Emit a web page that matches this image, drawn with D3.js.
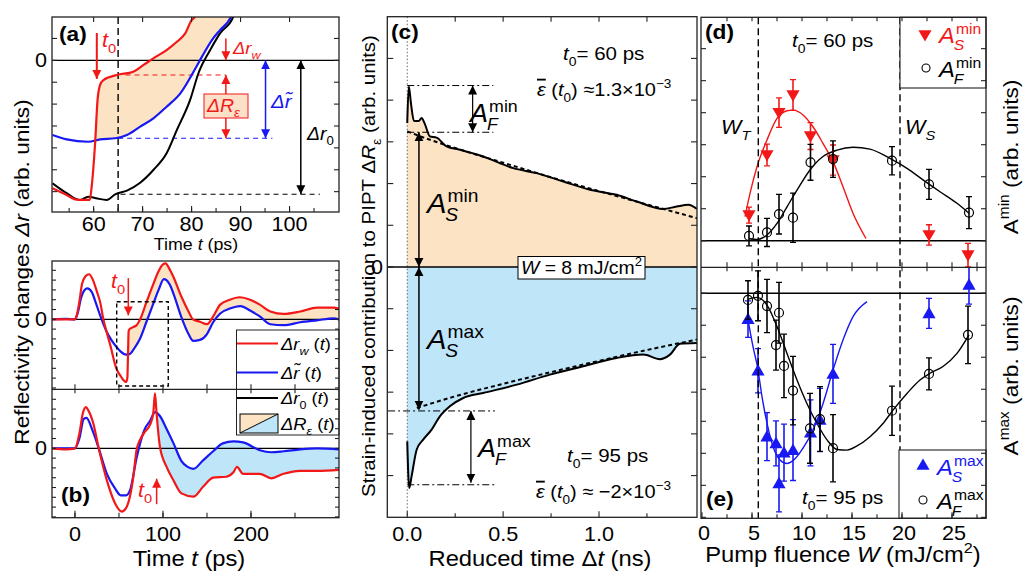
<!DOCTYPE html>
<html>
<head>
<meta charset="utf-8">
<script src="https://cdn.jsdelivr.net/npm/d3@7/dist/d3.min.js"></script>
<style>
  body { margin: 0; background: #fff; }
  svg { display: block; }
</style>
</head>
<body>
<script>
// ---- panel (a): zoom on t0 region (t in ps, arb. units) ----
var aRed = [[51.6,-5.85],[54,-6.1],[56.9,-6.38],[59.2,-6.38],[59.6,-5.77],[60.3,-3.79],[60.8,-1.81],[61.3,-1.13],[62,-0.9],[64.7,-0.67],[68.1,-0.52],[70.2,-0.21],[72.2,0.09],[74.9,0.47],[77,0.85],[78.7,1.23],[80,1.84],[80.7,1.99],[81.5,2.5]];
var aBlue = [[51.6,-3.41],[54.5,-3.61],[58.9,-3.72],[61.3,-3.61],[64.4,-3.56],[66.8,-3.41],[69.5,-3.03],[72.2,-2.65],[74.9,-2.12],[77.7,-1.51],[80.4,-0.52],[82.1,0.16],[84.4,1.0],[85.8,1.38],[87.9,1.92],[89,2.5]];
var aBlack = [[51.6,-5.62],[54.5,-6.07],[57.2,-6.38],[58.9,-6.23],[60.5,-6.3],[62.7,-6.38],[64.4,-6.12],[66.8,-5.95],[69.5,-5.59],[72.2,-5.01],[74.9,-4.25],[77,-3.18],[79.7,-1.81],[81.4,-0.59],[83.8,0.47],[85.8,1.23],[88.5,1.99],[89,2.3]];
var aXTicks = [60, 70, 80, 90, 100];

// ---- panel (b): full transients, upper t0 = 60 ps, lower t0 = 95 ps ----
var bUpRed = [[-26,0],[-10,0],[0,0],[2,0.4],[5,1.8],[8,3.6],[12,4.4],[16,4.6],[20,4.1],[25,2.8],[29,1.6],[32,0.1],[36,-1.3],[40,-2.6],[47,-5.0],[52,-5.8],[55,-6.2],[58,-6.4],[59.5,-6.0],[60.3,-3.5],[61,-1.2],[62,-1.0],[66,-0.8],[70,-0.6],[75,0.2],[81,1.7],[89,3.6],[95,4.9],[100,5.6],[103,5.7],[107,5.2],[112,4.3],[121,2.3],[129,0.8],[134,0],[142,-0.25],[150,-0.5],[157,0.3],[165,1.5],[176,2.0],[187,2.25],[199,2.0],[210,1.5],[222,0.8],[237,0.55],[256,0.8],[275,1.2],[294,1.2],[300,1.1]];
var bUpBlue = [[-26,0],[-10,0.05],[0,0],[3,0.6],[7,2.2],[11,3.0],[14,3.15],[19,2.8],[24,1.6],[28.4,0.45],[32,-0.4],[36,-1.27],[42,-2.2],[47,-2.8],[52,-3.3],[58,-3.6],[62,-3.55],[66,-3.15],[70,-2.6],[74,-1.95],[81,-0.3],[89,1.6],[95,3.0],[101,4.1],[104,4.0],[108,3.5],[112,2.6],[121,0.2],[129,-1.5],[134.5,-2.2],[142,-2.1],[150,-1.5],[157,-0.3],[165,0.6],[176,1.1],[188,1.35],[199,0.9],[210,0.3],[222,-0.5],[237,-0.6],[256,-0.3],[275,-0.1],[294,0.1],[300,0]];
var bLoRed = [[-26,0],[-10,-0.1],[0,0],[5,1.5],[9,3.6],[12.5,4.2],[15,3.9],[20.8,2.55],[27,0],[36,-3.2],[45.5,-5.6],[53,-6.45],[58,-6.1],[62.5,-4.9],[66.3,-2.9],[70,-0.17],[73.9,0.85],[79.5,1.7],[85.2,2.38],[89,3.6],[90.9,5.6],[92.7,3.6],[96.5,0.17],[104,-1.87],[111.7,-3.23],[121,-4.6],[134.5,-4.93],[145.8,-3.9],[157,-3.0],[172,-2.9],[180,-2.45],[184,-1.9],[191,-2.6],[210,-2.6],[223,-3.06],[237,-2.6],[256,-2.3],[275,-2.3],[300,-2.2]];
var bLoBlue = [[-26,0],[0,0],[5,1.0],[10,3.0],[13,3.1],[20,1.8],[27,0],[36,-2.55],[45.5,-4.1],[52,-4.8],[58,-4.8],[62.5,-4.3],[70,-1.0],[74,0.5],[79.5,2.0],[85,2.75],[91,3.7],[96.5,3.3],[104,2.0],[112,0.5],[121,-1.3],[128,-1.9],[134.5,-2.1],[145.8,-1.2],[157,-0.3],[168,0.5],[180,0.7],[191,0.6],[210,-0.2],[223,-0.4],[237,-0.3],[256,-0.1],[275,0],[300,-0.1]];
var bXTicks = [0, 100, 200];

// ---- panel (c): strain-induced contribution vs reduced time (ns) ----
var cMinCurve = [[0,3.45],[0.008,4.33],[0.02,3.9],[0.035,3.5],[0.06,3.5],[0.075,3.57],[0.09,3.45],[0.118,3.13],[0.153,3.1],[0.205,2.89],[0.275,2.81],[0.396,2.65],[0.553,2.37],[0.675,2.25],[0.814,2.05],[0.953,1.85],[1.092,1.73],[1.196,1.57],[1.335,1.39],[1.405,1.45],[1.466,1.49],[1.511,1.39]];
var cMinFit = [[0,3.25],[0.1,3.08],[0.3,2.78],[0.5,2.5],[0.75,2.15],[1.0,1.82],[1.25,1.5],[1.511,1.17]];
var cMaxCurve = [[0,-4.18],[0.0104,-5.3],[0.0226,-5.02],[0.049,-4.38],[0.083,-4.14],[0.127,-3.9],[0.17,-3.58],[0.222,-3.34],[0.292,-3.14],[0.396,-3.02],[0.571,-2.82],[0.744,-2.58],[0.918,-2.38],[1.092,-2.18],[1.231,-2.1],[1.318,-2.21],[1.37,-2.1],[1.422,-1.84],[1.511,-1.82]];
var cMaxFit = [[0.05,-3.38],[0.25,-3.1],[0.5,-2.8],[0.75,-2.52],[1.0,-2.25],[1.25,-1.99],[1.511,-1.74]];
var cXTicks = [0, 0.5, 1.0];

// ---- panels (d), (e): amplitudes vs pump fluence W (mJ/cm2) ----
var dSW = [4.7, 6.5, 7.7, 9.1, 10.85, 13.1, 22.7, 26.6];
var dS = [0.80, 2.68, 4.0, 4.55, 3.27, 2.52, 0.18, -0.45];
var dSErr = [0.25, 0.34, 0.46, 0.48, 0.42, 0.47, 0.32, 0.37];
var dFW = [4.7, 6.5, 7.7, 9.1, 10.85, 13.1, 19.0, 22.7, 26.7];
var dF = [0.15, 0.26, 0.83, 0.72, 2.45, 2.55, 2.5, 1.76, 0.88];
var dFErr = [0.31, 0.44, 0.62, 0.77, 0.56, 0.57, 0.44, 0.47, 0.5];
var dSFit = [[4.3,0.75],[4.8,1.48],[5.5,2.31],[6.5,3.15],[7.5,3.82],[8.5,4.06],[9.1,4.08],[10.1,3.93],[11.1,3.56],[12.1,3.04],[13.1,2.47],[14.1,1.69],[15.1,0.86],[16.4,0.07]];
var dFFit = [[4.7,0.07],[5.5,0.04],[6.5,0.18],[7.5,0.54],[8.5,1.06],[9.5,1.58],[10.8,2.21],[12.1,2.63],[13.5,2.83],[15.1,2.92],[16.8,2.86],[18.8,2.57],[20.5,2.26],[22.1,1.9],[23.8,1.53],[25.5,1.17],[26.7,0.86]];

var eSW = [4.6, 5.6, 6.5, 7.4, 7.7, 8.2, 9.1, 10.85, 11.8, 13.1, 22.7, 26.7];
var eS = [-0.81, -2.42, -4.48, -4.69, -5.94, -4.98, -4.9, -4.36, -3.96, -2.52, -0.63, 0.26];
var eSErr = [0.57, 0.69, 0.75, 0.7, 0.89, 0.89, 0.95, 1.03, 0.99, 0.92, 0.47, 0.6];
var eFW = [4.6, 5.6, 6.5, 7.4, 7.7, 8.2, 9.1, 10.8, 11.8, 13.1, 19.0, 22.7, 26.6];
var eF = [-0.21, -0.08, -0.4, -1.62, -0.61, -2.27, -3.04, -4.22, -3.93, -4.84, -3.67, -2.52, -1.3];
var eFErr = [0.6, 0.78, 0.83, 0.78, 0.95, 0.99, 1.07, 1.09, 1.01, 1.05, 0.77, 0.5, 0.9];
var eSFit = [[4.6,-0.83],[5.1,-1.67],[5.6,-2.39],[6.0,-3.23],[6.5,-4.06],[7.1,-4.79],[7.8,-5.21],[8.5,-5.32],[9.1,-5.23],[10.1,-4.84],[11.1,-4.27],[12.1,-3.45],[13.1,-2.4],[14.1,-1.46],[15.1,-0.73],[16.5,-0.26]];
var eFFit = [[4.6,-0.19],[5.5,-0.13],[6.5,-0.37],[7.5,-1.04],[8.5,-1.88],[9.5,-2.71],[10.5,-3.45],[11.5,-4.07],[12.5,-4.58],[13.5,-4.88],[14.5,-4.9],[15.5,-4.77],[16.8,-4.48],[18.1,-4.07],[19.1,-3.65],[20.5,-3.13],[21.8,-2.71],[22.8,-2.5],[24.1,-2.29],[25.5,-1.88],[26.7,-1.3]];
var wTicks = [0, 5, 10, 15, 20, 25];
var wThresholds = [5.63, 19.8];

var RED = '#f21818', BLUE = '#1818f2', TAN = '#fbe3c3', SKY = '#bfe5f9', FRAME = '#222';
var SX = 1.08; // the original lettering is slightly wider than it is tall

var svg = d3.select('body').append('svg')
    .attr('width', 1023).attr('height', 578)
    .style('font-family', 'Liberation Sans, Arial, Helvetica, sans-serif');

// arrow heads
var defs = svg.append('defs');
[['red', RED], ['blue', BLUE], ['black', '#000']].forEach(function (c) {
  defs.append('marker').attr('id', 'ah-' + c[0])
    .attr('viewBox', '0 0 10 10').attr('refX', 10).attr('refY', 5)
    .attr('markerUnits', 'userSpaceOnUse')
    .attr('markerWidth', 9).attr('markerHeight', 10)
    .attr('orient', 'auto-start-reverse')
    .append('path').attr('d', 'M0,0L10,5L0,10z').attr('fill', c[1]);
});

function clip(id, x0, y0, x1, y1) {
  defs.append('clipPath').attr('id', id).append('rect')
    .attr('x', x0).attr('y', y0).attr('width', x1 - x0).attr('height', y1 - y0);
}

function frame(x0, y0, x1, y1) {
  svg.append('rect').attr('x', x0).attr('y', y0).attr('width', x1 - x0).attr('height', y1 - y0)
    .attr('fill', 'none').attr('stroke', FRAME).attr('stroke-width', 1.3);
}

function tk(orient, scale, vals, pos, len) {
  vals.forEach(function (v) {
    var p = scale(v), l = svg.append('line').attr('stroke', FRAME).attr('stroke-width', 1.1);
    if (orient === 'b') l.attr('x1', p).attr('x2', p).attr('y1', pos).attr('y2', pos - len);
    else if (orient === 't') l.attr('x1', p).attr('x2', p).attr('y1', pos).attr('y2', pos + len);
    else if (orient === 'l') l.attr('y1', p).attr('y2', p).attr('x1', pos).attr('x2', pos + len);
    else l.attr('y1', p).attr('y2', p).attr('x1', pos).attr('x2', pos - len);
  });
}

function place(x, y, rot) {
  return 'translate(' + x + ',' + y + ')' + (rot ? ' rotate(-90)' : '') + ' scale(' + SX + ',1)';
}

function txt(x, y, str, size, anchor, weight) {
  return svg.append('text').attr('transform', place(x, y)).attr('font-size', size)
    .attr('text-anchor', anchor || 'middle').attr('font-weight', weight || null).text(str);
}

function rich(g, x, y, parts, o) {
  o = o || {};
  var size = o.size || 18;
  var t = g.append('text').attr('transform', place(x, y, o.rotate)).attr('font-size', size)
    .attr('fill', o.fill || '#000').attr('text-anchor', o.anchor || 'start');
  var off = 0;
  parts.forEach(function (p) {
    var s = typeof p === 'string' ? { t: p } : p;
    var target = s.sub ? size * 0.3 : s.sup ? -size * 0.42 : 0;
    var sp = t.append('tspan').attr('dy', target - off).text(s.t);
    off = target;
    if (s.sub || s.sup) sp.attr('font-size', size * 0.68);
    if (s.i) sp.attr('font-style', 'italic');
    if (s.bar) sp.style('text-decoration', 'overline');
  });
  return t;
}

// italic symbol with stacked subscript and superscript
function stacked(g, x, y, base, sub, sup, o) {
  o = o || {};
  var size = o.size || 24, fill = o.fill || '#000';
  var gg = g.append('g').attr('transform', place(x, y)).attr('fill', fill);
  var t = gg.append('text').attr('font-size', size).attr('font-style', 'italic').text(base);
  var w = t.node().getComputedTextLength();
  gg.append('text').attr('x', w + 1).attr('y', -size * 0.42).attr('font-size', size * 0.66).text(sup);
  gg.append('text').attr('x', w - 1).attr('y', size * 0.3).attr('font-size', size * 0.66)
    .attr('font-style', 'italic').text(sub);
}

function arrow(g, x1, y1, x2, y2, color, both, width) {
  var id = color === RED ? 'red' : color === BLUE ? 'blue' : 'black';
  var l = g.append('line').attr('x1', x1).attr('y1', y1).attr('x2', x2).attr('y2', y2)
    .attr('stroke', color).attr('stroke-width', width || 1.5)
    .attr('marker-end', 'url(#ah-' + id + ')');
  if (both) l.attr('marker-start', 'url(#ah-' + id + ')');
}

function hline(g, x1, x2, y, color, dash, width) {
  g.append('line').attr('x1', x1).attr('x2', x2).attr('y1', y).attr('y2', y)
    .attr('stroke', color).attr('stroke-width', width || 1.3)
    .attr('stroke-dasharray', dash || null);
}

// ================= panel (a) =================
var ax = d3.scaleLinear().domain([51.5, 110.1]).range([52, 339]);
var ay = d3.scaleLinear().domain([-6.93, 1.98]).range([212, 17]);
clip('clipA', 52, 17, 339, 212);
var gA = svg.append('g').attr('clip-path', 'url(#clipA)');
var lineA = d3.line().x(function (d) { return ax(d[0]); }).y(function (d) { return ay(d[1]); }).curve(d3.curveMonotoneX);

var aFillRed = aRed.filter(function (d) { return d[0] >= 60.3; });
var aFillBlue = aBlue.filter(function (d) { return d[0] >= 61.3; }).reverse();
gA.append('path').attr('d', lineA(aFillRed) + 'L' + lineA(aFillBlue).slice(1) + 'Z')
  .attr('fill', TAN).attr('stroke', 'none');
hline(gA, 52, 339, ay(0), '#000', null, 1.3);
gA.append('line').attr('x1', ax(65)).attr('x2', ax(65)).attr('y1', 17).attr('y2', 212)
  .attr('stroke', '#000').attr('stroke-width', 1.4).attr('stroke-dasharray', '7,4');
hline(gA, ax(66.5), ax(87), ay(-0.67), RED, '5,4', 1.1);
hline(gA, ax(65), ax(96.5), ay(-3.56), BLUE, '5,4', 1.1);
hline(gA, ax(65.5), ax(106.2), ay(-6.12), '#000', '5,4', 1.1);
gA.append('path').attr('d', lineA(aBlack)).attr('fill', 'none').attr('stroke', '#000').attr('stroke-width', 2);
gA.append('path').attr('d', lineA(aBlue)).attr('fill', 'none').attr('stroke', BLUE).attr('stroke-width', 2.2);
gA.append('path').attr('d', lineA(aRed)).attr('fill', 'none').attr('stroke', RED).attr('stroke-width', 2.2);

arrow(svg, ax(60.65), ay(1.25), ax(60.65), ay(-0.85), RED, false, 2);
rich(svg, ax(61.7), 47, [{ t: 't', i: true }, { t: '0', sub: true }], { size: 20, fill: RED });
arrow(svg, ax(87), ay(1.0), ax(87), ay(0), RED, false, 1.5);
rich(svg, 233, 54, [{ t: 'Δr', i: true }, { t: 'w', sub: true, i: true }], { size: 17, fill: RED });
arrow(svg, ax(87), ay(-0.67), ax(87), ay(-3.56), RED, true, 1.5);
svg.append('rect').attr('x', 204).attr('y', 94).attr('width', 44).attr('height', 24)
  .attr('fill', '#fde0c8').attr('stroke', RED).attr('stroke-width', 1);
rich(svg, 207, 112, [{ t: 'ΔR', i: true }, { t: 'ε', sub: true, i: true }], { size: 18, fill: RED });
arrow(svg, ax(95.1), ay(0), ax(95.1), ay(-3.56), BLUE, true, 1.5);
rich(svg, 271, 108, [{ t: 'Δr\u0303', i: true }], { size: 19, fill: BLUE });
arrow(svg, ax(102.3), ay(0), ax(102.3), ay(-6.12), '#000', true, 1.5);
rich(svg, 307, 140, [{ t: 'Δr', i: true }, { t: '0', sub: true }], { size: 18 });

frame(52, 17, 339, 212);
tk('b', ax, d3.range(55, 110, 5), 212, 4);
tk('b', ax, aXTicks, 212, 6);
tk('t', ax, aXTicks, 17, 5);
tk('l', ay, d3.range(-6, 2, 1), 52, 5);
tk('r', ay, d3.range(-6, 2, 1), 339, 5);
aXTicks.forEach(function (v) { txt(ax(v), 231, v, 20); });
txt(47, ay(0) + 7, '0', 20, 'end');
rich(svg, 196, 250, ['Time ', { t: 't', i: true }, ' (ps)'], { size: 16.5, anchor: 'middle' });
txt(59, 41, '(a)', 21, 'start', 'bold');

// ================= panel (b) =================
var bx = d3.scaleLinear().domain([-26.1, 300]).range([52, 339]);
var bUy = d3.scaleLinear().domain([-7.14, 5.95]).range([389.3, 261]);
var bLy = d3.scaleLinear().domain([-7.08, 6.02]).range([517.7, 389.3]);
clip('clipBU', 52, 261, 339, 389.3);
clip('clipBL', 52, 389.3, 339, 517.7);
function lineB(sy) {
  return d3.line().x(function (d) { return bx(d[0]); }).y(function (d) { return sy(d[1]); }).curve(d3.curveMonotoneX);
}
var gBU = svg.append('g').attr('clip-path', 'url(#clipBU)');
var lBU = lineB(bUy);
gBU.append('path')
  .attr('d', lBU(bUpRed.filter(function (d) { return d[0] >= 60.3; })) + 'L' +
    lBU(bUpBlue.filter(function (d) { return d[0] >= 60.3; }).reverse()).slice(1) + 'Z')
  .attr('fill', TAN);
hline(gBU, 52, 339, bUy(0), '#000', null, 1.3);
gBU.append('path').attr('d', lBU(bUpBlue)).attr('fill', 'none').attr('stroke', BLUE).attr('stroke-width', 2.2);
gBU.append('path').attr('d', lBU(bUpRed)).attr('fill', 'none').attr('stroke', RED).attr('stroke-width', 2.2);
gBU.append('rect').attr('x', bx(47.4)).attr('y', bUy(1.8)).attr('width', bx(106) - bx(47.4))
  .attr('height', bUy(-6.8) - bUy(1.8)).attr('fill', 'none').attr('stroke', '#000')
  .attr('stroke-width', 1.4).attr('stroke-dasharray', '4,3');

var gBL = svg.append('g').attr('clip-path', 'url(#clipBL)');
var lBL = lineB(bLy);
gBL.append('path')
  .attr('d', lBL(bLoBlue.filter(function (d) { return d[0] >= 91; })) + 'L' +
    lBL(bLoRed.filter(function (d) { return d[0] >= 92.7; }).reverse()).slice(1) + 'Z')
  .attr('fill', SKY);
hline(gBL, 52, 339, bLy(0), '#000', null, 1.3);
gBL.append('path').attr('d', lBL(bLoBlue)).attr('fill', 'none').attr('stroke', BLUE).attr('stroke-width', 2.2);
gBL.append('path').attr('d', lBL(bLoRed)).attr('fill', 'none').attr('stroke', RED).attr('stroke-width', 2.2);

arrow(svg, bx(60.6), bUy(4.2), bx(60.6), bUy(0.4), RED, false, 1.5);
rich(svg, 111, 288, [{ t: 't', i: true }, { t: '0', sub: true }], { size: 20, fill: RED });
arrow(svg, bx(92.8), bLy(-5.7), bx(92.8), bLy(-3.1), RED, false, 1.5);
rich(svg, 138, 497, [{ t: 't', i: true }, { t: '0', sub: true }], { size: 20, fill: RED });

// legend (b)
var gLeg = svg.append('g');
gLeg.append('rect').attr('x', 236.5).attr('y', 330).attr('width', 102.5).attr('height', 105)
  .attr('fill', '#fff').attr('stroke', FRAME).attr('stroke-width', 1);
[[RED, 343.5, [{ t: 'Δr', i: true }, { t: 'w', sub: true, i: true }, ' (', { t: 't', i: true }, ')']],
 [BLUE, 372.5, [{ t: 'Δr\u0303', i: true }, ' (', { t: 't', i: true }, ')']],
 ['#000', 398, [{ t: 'Δr', i: true }, { t: '0', sub: true }, ' (', { t: 't', i: true }, ')']]
].forEach(function (r) {
  gLeg.append('line').attr('x1', 237).attr('x2', 278).attr('y1', r[1]).attr('y2', r[1])
    .attr('stroke', r[0]).attr('stroke-width', 2.2);
  rich(gLeg, 281, r[1] + 6, r[2], { size: 17 });
});
gLeg.append('rect').attr('x', 240).attr('y', 414).attr('width', 38).attr('height', 19).attr('fill', TAN);
gLeg.append('path').attr('d', 'M240,433L278,414L278,433Z').attr('fill', SKY);
gLeg.append('line').attr('x1', 240).attr('y1', 433).attr('x2', 278).attr('y2', 414).attr('stroke', '#000').attr('stroke-width', 1);
gLeg.append('rect').attr('x', 240).attr('y', 414).attr('width', 38).attr('height', 19)
  .attr('fill', 'none').attr('stroke', '#000').attr('stroke-width', 1);
rich(gLeg, 281, 430, [{ t: 'ΔR', i: true }, { t: 'ε', sub: true, i: true }, ' (', { t: 't', i: true }, ')'], { size: 17 });

frame(52, 261, 339, 517.7);
svg.append('line').attr('x1', 52).attr('x2', 339).attr('y1', 389.3).attr('y2', 389.3).attr('stroke', FRAME).attr('stroke-width', 1.3);
tk('b', bx, d3.range(0, 300, 50), 517.7, 5);
tk('b', bx, bXTicks, 517.7, 7);
tk('b', bx, d3.range(0, 300, 50), 389.3, 5);
tk('t', bx, d3.range(0, 300, 50), 389.3, 4);
tk('l', bUy, d3.range(-7, 6, 1), 52, 4);
tk('r', bUy, d3.range(-7, 6, 1), 339, 4);
tk('l', bLy, d3.range(-7, 7, 1), 52, 4);
tk('r', bLy, d3.range(-7, 7, 1), 339, 4);
bXTicks.forEach(function (v) { txt(bx(v), 541, v, 20); });
txt(47, bUy(0) + 7, '0', 20, 'end');
txt(47, bLy(0) + 7, '0', 20, 'end');
rich(svg, 189, 566, ['Time ', { t: 't', i: true }, ' (ps)'], { size: 22, anchor: 'middle' });
txt(61, 502, '(b)', 21, 'start', 'bold');

rich(svg, 29, 272, ['Reflectivity changes ', { t: 'Δr', i: true }, ' (arb. units)'],
  { size: 21, anchor: 'middle', rotate: true });

// ================= panel (c) =================
var cx = d3.scaleLinear().domain([-0.104, 1.511]).range([387.3, 697]);
var cy = d3.scaleLinear().domain([-6, 6]).range([517.3, 16.7]);
clip('clipC', 387.3, 16.7, 697, 517.3);
var gC = svg.append('g').attr('clip-path', 'url(#clipC)');
var areaC = d3.area().x(function (d) { return cx(d[0]); }).y0(cy(0)).y1(function (d) { return cy(d[1]); }).curve(d3.curveMonotoneX);
var lineC = d3.line().x(function (d) { return cx(d[0]); }).y(function (d) { return cy(d[1]); }).curve(d3.curveMonotoneX);
gC.append('path').attr('d', areaC(cMinCurve)).attr('fill', TAN);
gC.append('path').attr('d', areaC(cMaxCurve)).attr('fill', SKY);
gC.append('line').attr('x1', cx(0)).attr('x2', cx(0)).attr('y1', 16.7).attr('y2', 517.3)
  .attr('stroke', '#666').attr('stroke-width', 1).attr('stroke-dasharray', '1.5,2');
hline(gC, 387.3, 697, cy(0), '#000', null, 1.3);
gC.append('path').attr('d', lineC(cMinFit)).attr('fill', 'none').attr('stroke', '#000').attr('stroke-width', 2).attr('stroke-dasharray', '4,3');
gC.append('path').attr('d', lineC(cMaxFit)).attr('fill', 'none').attr('stroke', '#000').attr('stroke-width', 2).attr('stroke-dasharray', '4,3');
gC.append('path').attr('d', lineC(cMinCurve)).attr('fill', 'none').attr('stroke', '#000').attr('stroke-width', 2);
gC.append('path').attr('d', lineC(cMaxCurve)).attr('fill', 'none').attr('stroke', '#000').attr('stroke-width', 2);

hline(gC, cx(0), cx(0.449), cy(4.35), '#000', '7,3,2,3', 1);
hline(gC, cx(0), cx(0.449), cy(3.23), '#000', '7,3,2,3', 1);
hline(gC, cx(-0.1), cx(0.457), cy(-3.45), '#000', '7,3,2,3', 1);
hline(gC, cx(0), cx(0.457), cy(-5.22), '#000', '7,3,2,3', 1);
arrow(gC, cx(0.341), cy(4.35), cx(0.341), cy(3.23), '#000', true, 1.2);
arrow(gC, cx(0.061), cy(3.23), cx(0.061), cy(0), '#000', true, 1.5);
arrow(gC, cx(0.061), cy(0), cx(0.061), cy(-3.42), '#000', true, 1.5);
arrow(gC, cx(0.332), cy(-3.45), cx(0.332), cy(-5.17), '#000', true, 1.2);

stacked(svg, 470, 122, 'A', 'F', 'min', { size: 25 });
stacked(svg, 427, 213, 'A', 'S', 'min', { size: 27 });
stacked(svg, 427, 349, 'A', 'S', 'max', { size: 27 });
stacked(svg, 478, 457, 'A', 'F', 'max', { size: 25 });
rich(svg, 563, 60, [{ t: 't', i: true }, { t: '0', sub: true }, '= 60 ps'], { size: 19 });
rich(svg, 537, 96, [{ t: 'ε', i: true, bar: true }, ' (', { t: 't', i: true }, { t: '0', sub: true }, ') ≈1.3×10', { t: '−3', sup: true }], { size: 18.5 });
rich(svg, 567, 462, [{ t: 't', i: true }, { t: '0', sub: true }, '= 95 ps'], { size: 19 });
rich(svg, 536, 498, [{ t: 'ε', i: true, bar: true }, ' (', { t: 't', i: true }, { t: '0', sub: true }, ') ≈ −2×10', { t: '−3', sup: true }], { size: 18.5 });
svg.append('rect').attr('x', 518).attr('y', 256.5).attr('width', 127).attr('height', 22.5)
  .attr('fill', '#fff').attr('stroke', '#000').attr('stroke-width', 1);
rich(svg, 581.5, 274, [{ t: 'W', i: true }, ' = 8 mJ/cm', { t: '2', sup: true }], { size: 18, anchor: 'middle' });

frame(387.3, 16.7, 697, 517.3);
tk('b', cx, [0.25, 0.75, 1.25], 517.3, 4);
tk('b', cx, cXTicks, 517.3, 6);
tk('t', cx, [0.25, 0.5, 0.75, 1.0, 1.25], 16.7, 5);
tk('l', cy, d3.range(-5, 6, 1), 387.3, 6);
tk('r', cy, d3.range(-5, 6, 1), 697, 6);
cXTicks.forEach(function (v) { txt(cx(v), 541, d3.format('.1f')(v), 20); });
txt(383, cy(0) + 7, '0', 20, 'end');
rich(svg, 540, 566, ['Reduced time Δ', { t: 't', i: true }, ' (ns)'], { size: 22, anchor: 'middle' });
txt(391, 39, '(c)', 21, 'start', 'bold');
rich(svg, 375, 266, ['Strain-induced contribution to PIPT Δ', { t: 'R', i: true }, { t: 'ε', sub: true }, ' (arb. units)'],
  { size: 19, anchor: 'middle', rotate: true });

// ================= panels (d) and (e) =================
var wx = d3.scaleLinear().domain([-0.1, 28.4]).range([701, 986]);
var dy = d3.scaleLinear().domain([-0.83, 6.98]).range([267.3, 17.3]);
var ey = d3.scaleLinear().domain([-7.03, 0.81]).range([518.3, 267.3]);
clip('clipD', 701, 17.3, 986, 267.3);
clip('clipE', 701, 267.3, 986, 518.3);
var gD = svg.append('g').attr('clip-path', 'url(#clipD)');
var gE = svg.append('g').attr('clip-path', 'url(#clipE)');

function points(g, sy, ws, vs, errs, color, kind) {
  ws.forEach(function (w, i) {
    var x = wx(w), y0 = sy(vs[i] - errs[i]), y1 = sy(vs[i] + errs[i]);
    g.append('line').attr('x1', x).attr('x2', x).attr('y1', y0).attr('y2', y1).attr('stroke', color).attr('stroke-width', 1.6);
    [y0, y1].forEach(function (y) {
      g.append('line').attr('x1', x - 3).attr('x2', x + 3).attr('y1', y).attr('y2', y).attr('stroke', color).attr('stroke-width', 1.3);
    });
  });
  ws.forEach(function (w, i) {
    var x = wx(w), y = sy(vs[i]);
    if (kind === 'circle') {
      g.append('circle').attr('cx', x).attr('cy', y).attr('r', 4.5).attr('fill', 'none').attr('stroke', '#000').attr('stroke-width', 1.2);
    } else {
      g.append('path').attr('d', d3.symbol().type(d3.symbolTriangle).size(75)())
        .attr('transform', 'translate(' + x + ',' + (kind === 'down' ? y - 1 : y + 1) + ')' + (kind === 'down' ? ' rotate(180)' : ''))
        .attr('fill', color);
    }
  });
}
function fitLine(g, sy, data, color) {
  g.append('path').attr('d', d3.line().x(function (d) { return wx(d[0]); }).y(function (d) { return sy(d[1]); }).curve(d3.curveMonotoneX)(data))
    .attr('fill', 'none').attr('stroke', color).attr('stroke-width', 1.4);
}

hline(gD, 701, 986, dy(0), '#000', null, 1.3);
hline(gE, 701, 986, ey(0), '#000', null, 1.3);
fitLine(gD, dy, dSFit, RED);
fitLine(gD, dy, dFFit, '#000');
points(gD, dy, dSW, dS, dSErr, RED, 'down');
points(gD, dy, dFW, dF, dFErr, '#000', 'circle');
fitLine(gE, ey, eSFit, BLUE);
fitLine(gE, ey, eFFit, '#000');
points(gE, ey, eSW, eS, eSErr, BLUE, 'up');
points(gE, ey, eFW, eF, eFErr, '#000', 'circle');

wThresholds.forEach(function (w) {
  svg.append('line').attr('x1', wx(w)).attr('x2', wx(w)).attr('y1', 17.3).attr('y2', 518.3)
    .attr('stroke', '#000').attr('stroke-width', 1.4).attr('stroke-dasharray', '7,4');
});

// legends (d), (e)
svg.append('rect').attr('x', 900).attr('y', 17.3).attr('width', 86).attr('height', 70.7)
  .attr('fill', '#fff').attr('stroke', FRAME).attr('stroke-width', 1.1);
svg.append('path').attr('d', d3.symbol().type(d3.symbolTriangle).size(75)())
  .attr('transform', 'translate(925,34) rotate(180)').attr('fill', RED);
stacked(svg, 939, 43, 'A', 'S', 'min', { size: 22, fill: RED });
svg.append('circle').attr('cx', 926).attr('cy', 68).attr('r', 4).attr('fill', 'none').attr('stroke', '#000').attr('stroke-width', 1.1);
stacked(svg, 939, 77, 'A', 'F', 'min', { size: 22 });

svg.append('rect').attr('x', 899).attr('y', 450).attr('width', 87).attr('height', 68.3)
  .attr('fill', '#fff').attr('stroke', FRAME).attr('stroke-width', 1.1);
svg.append('path').attr('d', d3.symbol().type(d3.symbolTriangle).size(75)())
  .attr('transform', 'translate(923,466)').attr('fill', BLUE);
stacked(svg, 937, 475, 'A', 'S', 'max', { size: 22, fill: BLUE });
svg.append('circle').attr('cx', 923).attr('cy', 500).attr('r', 4).attr('fill', 'none').attr('stroke', '#000').attr('stroke-width', 1.1);
stacked(svg, 937, 509, 'A', 'F', 'max', { size: 22 });

txt(705, 39, '(d)', 21, 'start', 'bold');
txt(706, 506, '(e)', 21, 'start', 'bold');
rich(svg, 792, 47, [{ t: 't', i: true }, { t: '0', sub: true }, '= 60 ps'], { size: 19 });
rich(svg, 802, 504, [{ t: 't', i: true }, { t: '0', sub: true }, '= 95 ps'], { size: 19 });
rich(svg, 721, 134, [{ t: 'W', i: true }, { t: 'T', sub: true, i: true }], { size: 20 });
rich(svg, 905, 134, [{ t: 'W', i: true }, { t: 'S', sub: true, i: true }], { size: 20 });

frame(701, 17.3, 986, 518.3);
svg.append('line').attr('x1', 701).attr('x2', 986).attr('y1', 267.3).attr('y2', 267.3).attr('stroke', FRAME).attr('stroke-width', 1.3);
tk('b', wx, d3.range(2.5, 28, 2.5), 518.3, 4);
tk('b', wx, wTicks, 518.3, 6);
tk('b', wx, d3.range(2.5, 28, 2.5), 267.3, 5);
tk('t', wx, d3.range(2.5, 28, 2.5), 267.3, 4);
tk('t', wx, d3.range(2.5, 28, 2.5), 17.3, 4);
tk('l', dy, d3.range(0, 7, 1), 701, 5);
tk('r', dy, d3.range(0, 7, 1), 986, 5);
tk('l', ey, d3.range(-7, 1, 1), 701, 5);
tk('r', ey, d3.range(-7, 1, 1), 986, 5);
wTicks.forEach(function (v) { txt(wx(v) + 2, 540, v, 20); });
rich(svg, 843, 562, ['Pump fluence ', { t: 'W', i: true }, ' (mJ/cm', { t: '2', sup: true }, ')'], { size: 22, anchor: 'middle' });
rich(svg, 1018, 157, ['A', { t: 'min', sup: true }, ' (arb. units)'], { size: 21, anchor: 'middle', rotate: true });
rich(svg, 1018, 376, ['A', { t: 'max', sup: true }, ' (arb. units)'], { size: 21, anchor: 'middle', rotate: true });
</script>
</body>
</html>
